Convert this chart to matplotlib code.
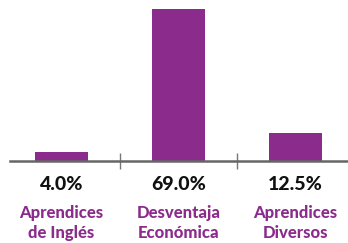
import matplotlib.pyplot as plt
import matplotlib.ticker as mticker

categories = ["Aprendices\nde Inglés", "Desventaja\nEconómica", "Aprendices\nDiversos"]
values = [4.0, 69.0, 12.5]

purple = "#8b2c8c"

fig = plt.figure(figsize=(3.48, 2.43), dpi=100)
ax = fig.add_axes([10 / 348, 82 / 243, 338 / 348, 152 / 243])

x = range(len(values))
ax.bar(x, values, width=0.45, color=purple)
ax.set_xlim(-0.44, 2.45)
ax.set_ylim(0, 69)

for s in ["top", "left", "right"]:
    ax.spines[s].set_visible(False)
ax.spines["bottom"].set_color("#666666")
ax.spines["bottom"].set_linewidth(1.8)
ax.set_yticks([])
ax.set_xticks([])
ax.xaxis.set_minor_locator(mticker.FixedLocator([0.5, 1.5]))
ax.tick_params(axis="x", which="minor", direction="inout", length=11,
               width=1, color="#777777")

tr = ax.get_xaxis_transform()
for i, (v, lab) in enumerate(zip(values, categories)):
    ax.text(i, -0.155, f"{v:.1f}%", transform=tr, ha="center", va="center",
            fontsize=14, fontweight="black", family="Lato", color="#111111")
    ax.text(i, -0.41, lab, transform=tr, ha="center", va="center",
            fontsize=12, fontweight="black", family="Lato", color=purple,
            linespacing=1.3)

fig.savefig("out.png", dpi=100)
